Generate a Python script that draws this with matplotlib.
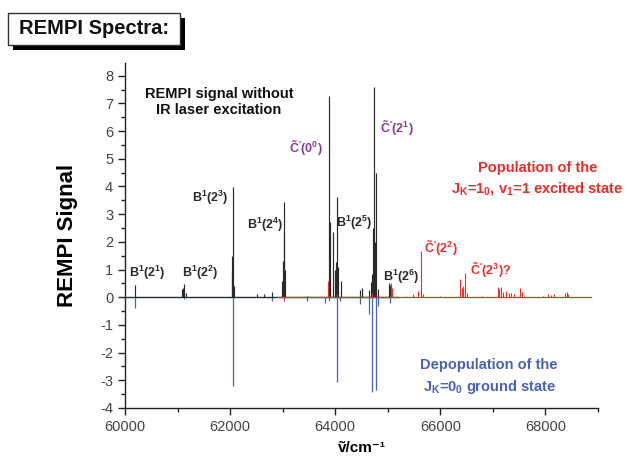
import matplotlib
matplotlib.use("Agg")
import matplotlib.pyplot as plt
from matplotlib.patches import Rectangle
from matplotlib.ticker import MultipleLocator

plt.rcParams['font.family'] = ['Liberation Sans', 'DejaVu Sans']
plt.rcParams['mathtext.fontset'] = 'custom'
plt.rcParams['mathtext.rm'] = 'Liberation Sans'
plt.rcParams['mathtext.bf'] = 'Liberation Sans:bold'
plt.rcParams['mathtext.it'] = 'Liberation Sans:italic'
plt.rcParams['axes.unicode_minus'] = False

# REMPI spectrum without IR excitation (black sticks)
black_pos = [60190, 61080, 61110, 61130, 61160, 62030, 62045, 62060, 62075,
             62510, 62640, 62800, 62990, 63005, 63020, 63035, 63050, 63470,
             63879, 63911, 63963, 63990, 64025, 64039, 64060, 64102, 64472,
             64520, 64643, 64675, 64700, 64720, 64738, 64760, 64783, 64820,
             65020, 65050]
black_int = [0.45, 0.30, 0.35, 0.47, 0.15, 0.9, 1.5, 3.97, 0.4,
             0.12, 0.1, 0.2, 0.6, 1.3, 2.35, 3.45, 1.0, 0.05,
             7.26, 2.7, 2.36, 1.0, 1.27, 3.62, 1.1, 0.6, 0.25,
             0.35, 0.25, 0.55, 0.85, 2.5, 7.6, 2.0, 4.5, 0.3,
             0.5, 0.45]

# population of J_K=1_0, v1=1 (red sticks)
red_pos = [63860, 64040, 64700, 65060, 65080, 65350, 65480, 65570, 65630, 65680,
           66000, 66380, 66410, 66440, 66470, 66500, 66800, 67090, 67120, 67155,
           67200, 67250, 67300, 67345, 67400, 67520, 67550, 67600, 67950, 68045,
           68110, 68170, 68380, 68410, 68440]
red_int = [0.6, 0.1, 0.15, 0.5, 0.35, 0.05, 0.1, 0.22, 1.67, 0.12,
           0.05, 0.65, 0.35, 0.4, 0.88, 0.15, 0.04, 0.36, 0.3, 0.36,
           0.2, 0.22, 0.15, 0.15, 0.1, 0.35, 0.2, 0.06, 0.05, 0.1,
           0.08, 0.1, 0.15, 0.2, 0.12]

# depopulation of J_K=0_0 ground state (blue sticks)
blue_pos = [60190, 61130, 62060, 62800, 63020, 63470, 63800, 63875, 64040, 64100,
            64470, 64640, 64705, 64770, 64820, 65040]
blue_int = [-0.4, -0.05, -3.2, -0.12, -0.15, -0.12, -0.2, -0.15, -3.07, -0.15,
            -0.25, -0.6, -3.43, -3.36, -0.3, -0.2]

black_base = [60000, 65200]
blue_base = [60000, 65200]
red_base = [62900, 68870]

blk = '#2a2a2a'
red = '#ee2b2b'
blue = '#4a62b5'
purple = '#8b3a96'

fig = plt.figure(figsize=(6.33, 4.62), dpi=100)
ax = fig.add_axes([0.1975, 0.117, 0.747, 0.746])

ax.plot(blue_base, [0, 0], color=blue, lw=1.0)
ax.vlines(blue_pos, 0, blue_int, color=blue, lw=0.9)
ax.plot(black_base, [0, 0], color=blk, lw=0.8)
ax.vlines(black_pos, 0, black_int, color=blk, lw=0.85)
ax.plot(red_base, [0, 0], color=red, lw=0.9)
ax.vlines(red_pos, 0, red_int, color=red, lw=0.8)

ax.set_xlim(60000, 69000)
ax.set_ylim(-4, 8.45)
ax.xaxis.set_major_locator(MultipleLocator(2000))
ax.xaxis.set_minor_locator(MultipleLocator(1000))
ax.yaxis.set_major_locator(MultipleLocator(1))
ax.yaxis.set_minor_locator(MultipleLocator(0.5))
for s in ['top', 'right']:
    ax.spines[s].set_visible(False)
for s in ['left', 'bottom']:
    ax.spines[s].set_color('#222222')
    ax.spines[s].set_linewidth(1.0)
ax.tick_params(which='major', direction='out', length=5, width=1, colors='#222222',
               labelcolor='#444444', labelsize=10.5)
ax.tick_params(which='minor', direction='out', length=3, width=1, colors='#222222')

ax.set_ylabel('REMPI Signal', fontsize=16, fontweight='bold', labelpad=16)
ax.set_xlabel('ṽ/cm⁻¹', fontsize=11, fontweight='bold', labelpad=5)

# peak labels
lab = dict(fontsize=9, ha='center', va='center')
ax.text(60420, 0.87, r'$\mathbf{B^1(2^1)}$', color=blk, **lab)
ax.text(61430, 0.87, r'$\mathbf{B^1(2^2)}$', color=blk, **lab)
ax.text(61620, 3.57, r'$\mathbf{B^1(2^3)}$', color=blk, **lab)
ax.text(62670, 2.60, r'$\mathbf{B^1(2^4)}$', color=blk, **lab)
ax.text(64370, 2.70, r'$\mathbf{B^1(2^5)}$', color=blk, **lab)
ax.text(65250, 0.72, r'$\mathbf{B^1(2^6)}$', color=blk, **lab)
ax.text(63435, 5.40, r"$\mathbf{\tilde{C}'(0^0)}$", color=purple, **lab)
ax.text(65170, 6.10, r"$\mathbf{\tilde{C}'(2^1)}$", color=purple, **lab)
ax.text(66010, 1.77, r"$\mathbf{\tilde{C}'(2^2)}$", color=red, **lab)
ax.text(66960, 0.97, r"$\mathbf{\tilde{C}'(2^3)?}$", color=red, **lab)

ax.text(61790, 7.05, 'REMPI signal without\nIR laser excitation', fontsize=10.5,
        fontweight='bold', ha='center', va='center', color='#111111', linespacing=1.2)
ax.text(67860, 4.65, 'Population of the', fontsize=10.5, fontweight='bold',
        ha='center', va='center', color=red)
ax.text(67840, 3.93, r'J$_\mathbf{K}$=1$_\mathbf{0}$, v$_\mathbf{1}$=1 excited state',
        fontsize=10.5, fontweight='bold', ha='center', va='center', color=red)
ax.text(66930, -2.45, 'Depopulation of the', fontsize=10.5, fontweight='bold',
        ha='center', va='center', color=blue)
ax.text(66930, -3.25, r'J$_\mathbf{K}$=0$_\mathbf{0}$ ground state', fontsize=10.5,
        fontweight='bold', ha='center', va='center', color=blue)

# title box with shadow
W, H = 633, 462
fig.patches.append(Rectangle((13 / W, 1 - 50 / H), 172 / W, 32 / H, transform=fig.transFigure,
                             facecolor='black', edgecolor='none', zorder=1))
fig.patches.append(Rectangle((8 / W, 1 - 45 / H), 172 / W, 32 / H, transform=fig.transFigure,
                             facecolor='white', edgecolor='#333333', lw=1.0, zorder=2))
fig.text(94 / W, 1 - 29 / H, 'REMPI Spectra:', fontsize=14.5, fontweight='bold',
         ha='center', va='center', color='#111111', zorder=3)

fig.savefig('out.png', dpi=100)
